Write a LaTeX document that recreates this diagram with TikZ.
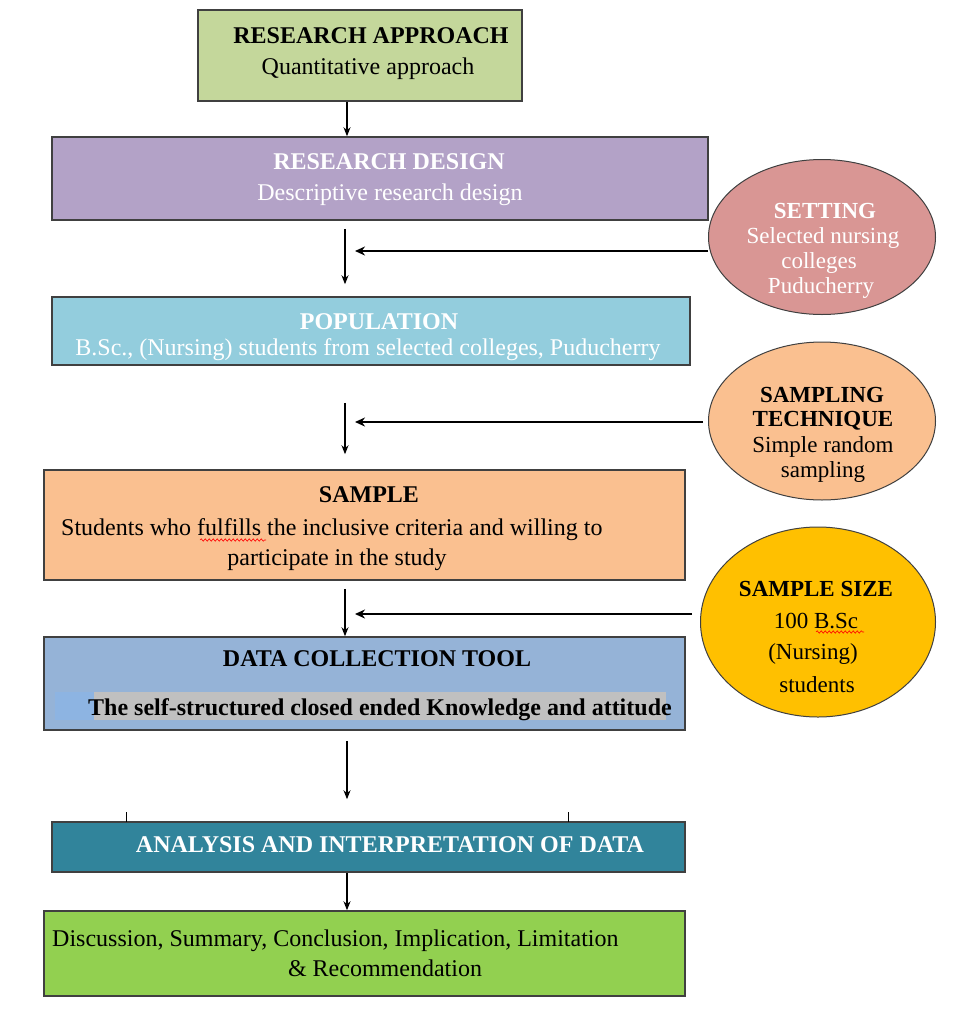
\documentclass[tikz,border=0pt]{standalone}
\usepackage{fontspec}
\setmainfont{Liberation Serif}
\usetikzlibrary{shapes.geometric,arrows.meta,calc,decorations.pathmorphing}
\definecolor{cRA}{HTML}{C4D79B}
\definecolor{cRD}{HTML}{B3A2C7}
\definecolor{cSET}{HTML}{D99694}
\definecolor{cPOP}{HTML}{93CDDD}
\definecolor{cST}{HTML}{FAC090}
\definecolor{cSAM}{HTML}{FAC090}
\definecolor{cSS}{HTML}{FFC000}
\definecolor{cDCT}{HTML}{95B3D7}
\definecolor{cANA}{HTML}{31849B}
\definecolor{cDIS}{HTML}{92D050}
\definecolor{cHL}{HTML}{C0C0C0}
\definecolor{cHLB}{HTML}{8DB4E2}
\definecolor{cEdge}{HTML}{404040}
\tikzset{
  box/.style={draw=cEdge,line width=1.5pt,rectangle,inner sep=0pt},
  oval/.style={draw=cEdge,line width=1pt,ellipse,inner sep=0pt},
  txt/.style={inner sep=0pt,anchor=base,font=\fontsize{24}{28}\selectfont},
  btxt/.style={txt,font=\fontsize{24}{28}\selectfont\bfseries},
  etxt/.style={txt,font=\fontsize{23}{28}\selectfont},
  ebtxt/.style={txt,font=\fontsize{23}{28}\selectfont\bfseries},
  arr/.style={line width=1.2pt,-{Stealth[length=9pt,width=7pt]}},
  harr/.style={line width=2pt,-{Stealth[length=10pt,width=9pt]}},
  squig/.style={red,line width=0.6pt,decorate,decoration={snake,amplitude=1.2pt,segment length=4pt}}
}
\begin{document}
\begin{tikzpicture}[x=1pt,y=-1pt]
\useasboundingbox[fill=white] (0,0) rectangle (978,1010);
% boxes
\node[box,fill=cRA,minimum width=324pt,minimum height=91pt] (ra) at (360,55.5) {};
\node[box,fill=cRD,minimum width=656pt,minimum height=83pt] (rd) at (380,178.5) {};
\node[box,fill=cPOP,minimum width=638pt,minimum height=68pt] (pop) at (371,331) {};
\node[box,fill=cSAM,minimum width=641pt,minimum height=110pt] (sam) at (364.5,525) {};
\node[box,fill=cDCT,minimum width=641pt,minimum height=93pt] (dct) at (364.5,683.5) {};
\node[box,fill=cANA,minimum width=633pt,minimum height=50pt] (ana) at (368.5,847) {};
\node[box,fill=cDIS,minimum width=641pt,minimum height=85pt] (dis) at (364.5,953.5) {};
% ellipses
\node[oval,fill=cSET,minimum width=227pt,minimum height=155pt] (set) at (822,237) {};
\node[oval,fill=cST,minimum width=227pt,minimum height=158pt] (st) at (822,421) {};
\node[oval,fill=cSS,minimum width=235pt,minimum height=190pt] (ss) at (818,622) {};
% highlight in data collection tool
\fill[cHLB] (55,692) rectangle (94,720);
\fill[cHL] (94,692) rectangle (666,720);
% texts
\node[btxt] (t1) at (371,43) {RESEARCH APPROACH};
\node[txt] (t2) at (368,74) {Quantitative approach};
\node[btxt,text=white] (t3) at (389,169) {RESEARCH DESIGN};
\node[txt,text=white] (t4) at (390,200) {Descriptive research design};
\node[ebtxt,text=white] (t5) at (825,218) {SETTING};
\node[etxt,text=white] (t6) at (823,243) {Selected nursing};
\node[etxt,text=white] (t7) at (819,268) {colleges};
\node[etxt,text=white] (t8) at (821,293) {Puducherry};
\node[btxt,text=white] (t9) at (379,329) {POPULATION};
\node[txt,text=white] (t10) at (368,355) {B.Sc., (Nursing) students from selected colleges, Puducherry};
\node[ebtxt] (t11) at (822,402) {SAMPLING};
\node[ebtxt] (t12) at (823,426) {TECHNIQUE};
\node[etxt] (t13) at (823,452) {Simple random};
\node[etxt] (t14) at (823,477) {sampling};
\node[btxt] (t15) at (369,502) {SAMPLE};
\node[txt,anchor=base west] (t16) at (61,535) {Students who fulfills the inclusive criteria and willing to};
\node[txt] (t17) at (337,565) {participate in the study};
\node[ebtxt] (t18) at (816,596) {SAMPLE SIZE};
\node[etxt] (t19) at (816,628) {100 B.Sc};
\node[etxt] (t20) at (813,659) {(Nursing)};
\node[etxt] (t21) at (817,692) {students};
\node[btxt] (t22) at (377,666) {DATA COLLECTION TOOL};
\node[btxt] (t23) at (380,715) {The self-structured closed ended Knowledge and attitude};
\node[btxt,text=white] (t24) at (390,852) {ANALYSIS AND INTERPRETATION OF DATA};
\node[txt,anchor=base west] (t25) at (52,946) {Discussion, Summary, Conclusion, Implication, Limitation};
\node[txt] (t26) at (385,976) {\& Recommendation};
% spell-check marks
\draw[squig] (200,540) -- (266,540);
\draw[squig] (816,632) -- (864,632);
% ticks above analysis box
\draw[line width=0.8pt] (126,812) -- (126 ,822);
\draw[line width=0.8pt] (568,812) -- (568,822);
% arrow x positions
\coordinate (ax) at (347,0);
\coordinate (bx) at (345,0);
% vertical arrows
\draw[arr] (ra.south -| ax) -- (rd.north -| ax);
\draw[arr] ($(rd.south -| bx)+(0,8)$) -- ($(pop.north -| bx)+(0,-12)$);
\draw[arr] ($(pop.south -| bx)+(0,37)$) -- ($(sam.north -| bx)+(0,-15)$);
\draw[arr] ($(sam.south -| bx)+(0,8)$) -- (dct.north -| bx);
\draw[arr] ($(dct.south -| ax)+(0,10)$) -- ($(ana.north -| ax)+(0,-22)$);
\draw[arr] (ana.south -| ax) -- (dis.north -| ax);
% horizontal arrows
\coordinate (h1) at (355,251);
\coordinate (h2) at (355,422);
\coordinate (h3) at (355,614);
\draw[harr] (set.west |- h1) -- (h1);
\draw[harr] ($(st.west |- h2)+(-5,0)$) -- (h2);
\draw[harr] ($(ss.west |- h3)+(-8,0)$) -- (h3);
\end{tikzpicture}
\end{document}
